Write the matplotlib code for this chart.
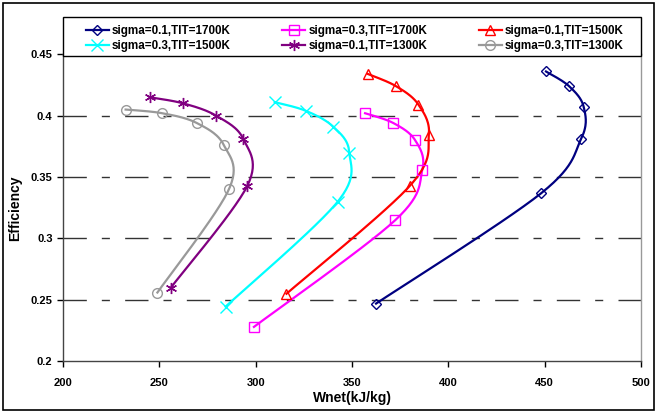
import numpy as np
import matplotlib
matplotlib.use("Agg")
import matplotlib.pyplot as plt
from matplotlib.patches import Rectangle

plt.rcParams["font.family"] = ["Liberation Sans", "DejaVu Sans"]
plt.rcParams["font.weight"] = "bold"

# net work (kJ/kg) and efficiency for each case, bottom of the curve first
labels = ["sigma=0.1,TIT=1700K", "sigma=0.3,TIT=1700K", "sigma=0.1,TIT=1500K",
          "sigma=0.3,TIT=1500K", "sigma=0.1,TIT=1300K", "sigma=0.3,TIT=1300K"]

w_s01_1700 = [362.5, 448.3, 468.9, 470.3, 462.7, 450.7]
e_s01_1700 = [0.247, 0.337, 0.381, 0.407, 0.424, 0.436]

w_s03_1700 = [299.1, 372.5, 386.5, 382.8, 371.5, 356.8]
e_s03_1700 = [0.228, 0.315, 0.356, 0.380, 0.394, 0.402]

w_s01_1500 = [316.0, 380.1, 389.9, 384.5, 372.9, 358.2]
e_s01_1500 = [0.255, 0.343, 0.384, 0.409, 0.424, 0.434]

w_s03_1500 = [284.4, 342.6, 348.6, 340.3, 326.0, 309.9]
e_s03_1500 = [0.2445, 0.330, 0.370, 0.391, 0.404, 0.411]

w_s01_1300 = [256.0, 295.7, 293.6, 279.5, 262.5, 245.0]
e_s01_1300 = [0.260, 0.343, 0.381, 0.400, 0.410, 0.415]

w_s03_1300 = [249.0, 286.1, 283.5, 269.5, 251.5, 232.5]
e_s03_1300 = [0.256, 0.340, 0.376, 0.394, 0.402, 0.405]

series = [(w_s01_1700, e_s01_1700), (w_s03_1700, e_s03_1700), (w_s01_1500, e_s01_1500),
          (w_s03_1500, e_s03_1500), (w_s01_1300, e_s01_1300), (w_s03_1300, e_s03_1300)]
colors = ["#000080", "#FF00FF", "#FF0000", "#00FFFF", "#800080", "#999999"]
markers = ["D", "s", "^", "x", (6, 2, 0), "o"]
msizes = [5.5, 7.5, 7.5, 8, 8, 7]

x_ticks = [200, 250, 300, 350, 400, 450, 500]
y_ticks = [0.2, 0.25, 0.3, 0.35, 0.4, 0.45]


def smooth(x, y, n=30):
    # Bezier smoothing through the points (Catmull-Rom style control points)
    p = np.column_stack([x, y]).astype(float)
    out = []
    for i in range(len(p) - 1):
        p0 = p[i - 1] if i > 0 else p[i]
        p1, p2 = p[i], p[i + 1]
        p3 = p[i + 2] if i + 2 < len(p) else p[i + 1]
        c1 = p1 + (p2 - p0) / 6
        c2 = p2 - (p3 - p1) / 6
        t = np.linspace(0, 1, n)[:, None]
        seg = (1 - t) ** 3 * p1 + 3 * (1 - t) ** 2 * t * c1 + 3 * (1 - t) * t ** 2 * c2 + t ** 3 * p2
        out.append(seg if i == 0 else seg[1:])
    s = np.vstack(out)
    return s[:, 0], s[:, 1]


fig = plt.figure(figsize=(6.57, 4.12), dpi=100)
ax = fig.add_axes([0.0959, 0.1231, 0.8797, 0.7451])

for yv in y_ticks[1:-1]:
    gl, = ax.plot([200, 500], [yv, yv], color="#333333", lw=1.0, zorder=1)
    gl.set_dashes([16.8, 10.8, 5.8, 11.0])

handles = []
for (x, y), c, m, ms, lab in zip(series, colors, markers, msizes, labels):
    sx, sy = smooth(x, y)
    ax.plot(sx, sy, color=c, lw=1.6, zorder=3)
    ax.plot(x, y, ls="none", marker=m, ms=ms, mfc="none", mec=c, mew=1.0, zorder=4)
    h, = ax.plot([], [], color=c, lw=1.6, marker=m, ms=ms, mfc="none", mec=c, mew=1.0)
    handles.append((h, lab))

ax.set_xlim(200, 500)
ax.set_ylim(0.2, 0.45)
ax.set_xticks(x_ticks)
ax.set_yticks(y_ticks)
ax.set_xticklabels([str(v) for v in x_ticks])
ax.set_yticklabels([f"{v:g}" for v in y_ticks])
ax.tick_params(labelsize=8, direction="out", length=4, width=1, colors="black")
for t in ax.get_xticklabels() + ax.get_yticklabels():
    t.set_fontweight("bold")
ax.tick_params(axis="x", pad=8)

ax.spines["left"].set_color("#444444")
ax.spines["bottom"].set_color("#444444")
ax.spines["right"].set_color("#999999")
ax.spines["top"].set_color("#999999")
for s in ax.spines.values():
    s.set_linewidth(1.0)

ax.set_xlabel("Wnet(kJ/kg)", fontsize=10, fontweight="bold", labelpad=2)
ax.set_ylabel("Efficiency", fontsize=10, fontweight="bold", labelpad=6)

# legend box spans the plot width; entries centred inside it
box_x0, box_y0, box_w, box_h = 0.0959, 1 - 56 / 412, 0.8797, 39 / 412
fig.patches.append(Rectangle((box_x0, box_y0), box_w, box_h, transform=fig.transFigure,
                             facecolor="white", edgecolor="black", lw=1.0, zorder=5))

# legend fills columns first, so order entries to read row by row
order = [0, 3, 1, 4, 2, 5]
leg = fig.legend([handles[i][0] for i in order], [handles[i][1] for i in order],
                 ncol=3, loc="center",
                 bbox_to_anchor=(box_x0 + box_w / 2 + 0.004, box_y0 + box_h / 2 - 2 / 412),
                 frameon=False, prop={"size": 8.4, "weight": "bold"}, handlelength=2.0,
                 handletextpad=0.25, borderaxespad=0, labelspacing=0.3,
                 borderpad=0, columnspacing=4.4)
leg.set_zorder(6)

fig.patches.append(Rectangle((0.004, 0.005), 0.992, 0.988, transform=fig.transFigure,
                             fill=False, edgecolor="black", lw=1.2))

fig.savefig("out.png", dpi=100)
